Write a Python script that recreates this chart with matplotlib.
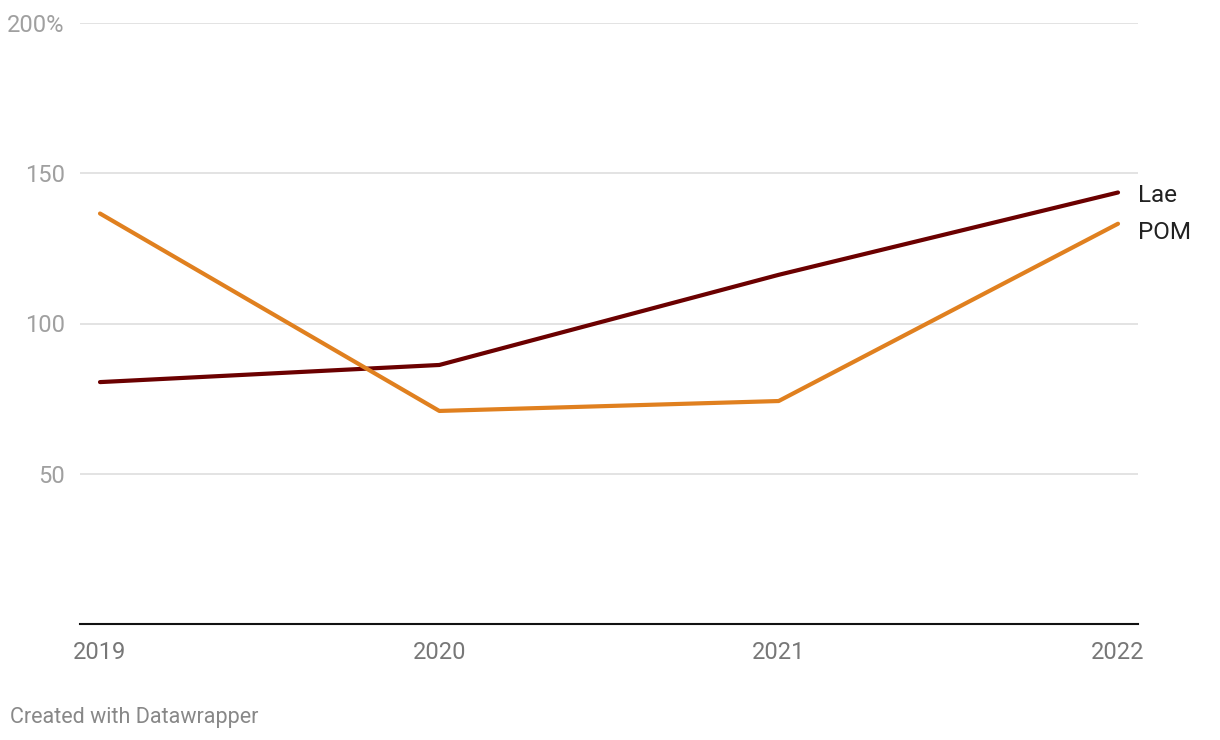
import matplotlib.pyplot as plt

plt.rcParams['font.family'] = ['Roboto', 'DejaVu Sans']

years = [2019, 2020, 2021, 2022]
lae = [80.5, 86.2, 116.2, 143.6]
pom = [136.6, 70.9, 74.2, 133.2]
yticks = [50, 100, 150, 200]
ytick_labels = ['50', '100', '150', '200%']

W, H = 1220, 740
fig = plt.figure(figsize=(W / 100, H / 100), dpi=100)
ax = fig.add_axes([80 / W, 1 - 624 / H, (1138 - 80) / W, (624 - 23) / H])

step = (1118 - 100) / 3
ax.set_xlim(2019 - 20 / step, 2022 + 20 / step)
ax.set_ylim(0, 200)

for v in yticks:
    ax.axhline(v, color='#e0e0e0', lw=1.3, zorder=1)

ax.plot(years, lae, color='#6b0000', lw=3, solid_capstyle='round', zorder=3)
ax.plot(years, pom, color='#e0801f', lw=3, solid_capstyle='round', zorder=3)

# direct labels at the line ends
ax.text(2022 + 20 / step, lae[-1] - 1, 'Lae', fontsize=17.5, color='#222222',
        va='center', ha='left')
ax.text(2022 + 20 / step, pom[-1] - 3, 'POM', fontsize=17.5, color='#222222',
        va='center', ha='left')

for s in ['top', 'right', 'left']:
    ax.spines[s].set_visible(False)
ax.spines['bottom'].set_color('#111111')
ax.spines['bottom'].set_linewidth(1.5)

ax.set_yticks(yticks)
ax.set_yticklabels(ytick_labels)
ax.tick_params(axis='y', length=0, pad=11, labelsize=17, labelcolor='#a0a0a0')
ax.set_xticks(years)
ax.set_xticklabels([str(y) for y in years])
ax.tick_params(axis='x', length=0, pad=12, labelsize=17, labelcolor='#777777')

fig.text(10 / W, 1 - 717 / H, 'Created with Datawrapper', fontsize=15.5,
         color='#888888', va='center', ha='left')

fig.savefig('out.png', dpi=100, facecolor='white')
